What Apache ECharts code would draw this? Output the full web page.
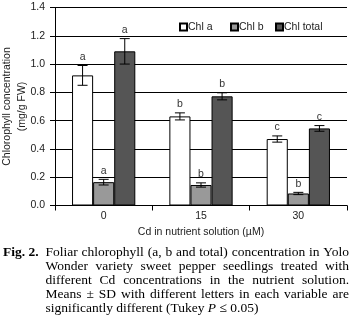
<!DOCTYPE html>
<html><head><meta charset="utf-8">
<script src="https://cdn.jsdelivr.net/npm/echarts@6/dist/echarts.min.js"></script>
<style>html,body{margin:0;padding:0;background:#fff}#c{width:354px;height:322px}</style>
</head><body><div id="c"></div>
<script>
const categories = ['0', '15', '30'];
const chlA = [0.92, 0.63, 0.47];
const chlASd = [0.07, 0.025, 0.022];
const chlALetters = ['a', 'b', 'c'];
const chlB = [0.165, 0.145, 0.085];
const chlBSd = [0.02, 0.015, 0.008];
const chlBLetters = ['a', 'b', 'b'];
const chlT = [1.09, 0.772, 0.545];
const chlTSd = [0.09, 0.025, 0.02];
const chlTLetters = ['a', 'b', 'c'];
const yTicks = [0, 0.2, 0.4, 0.6, 0.8, 1.0, 1.2, 1.4];
const yNameLines = ['Chlorophyll concentration', '(mg/g FW)'];
const captionLines = [
  'Foliar chlorophyll (a, b and total) concentration in Yolo',
  'Wonder variety sweet pepper seedlings treated with',
  'different Cd concentrations in the nutrient solution.',
  'Means \u00b1 SD with different letters in each variable are'
];

const GAP = 0.35;
const font = 'Liberation Sans, Arial, sans-serif';
const serif = 'Liberation Serif, Times New Roman, serif';

function errSeries(idx, vals, sds, letters) {
  return {
    type: 'custom', name: 'err' + idx, z: 5,
    encode: { x: 0, y: 1 },
    data: vals.map((v, i) => [i, v, sds[i]]),
    renderItem: function (params, api) {
      const ci = api.value(0), v = api.value(1), sd = api.value(2);
      const catW = api.size([1, 0])[0];
      const barW = catW * (1 - GAP) / 3;
      const c = api.coord([ci, v]);
      const x = c[0] + (idx - 1) * barW;
      const yt = api.coord([ci, v + sd])[1];
      const yb = api.coord([ci, v - sd])[1];
      const st = { stroke: '#000', lineWidth: 1 };
      return { type: 'group', children: [
        { type: 'line', shape: { x1: x, y1: yt, x2: x, y2: yb }, style: st },
        { type: 'line', shape: { x1: x - 5, y1: yt, x2: x + 5, y2: yt }, style: st },
        { type: 'line', shape: { x1: x - 5, y1: yb, x2: x + 5, y2: yb }, style: st },
        { type: 'text', style: { text: letters[params.dataIndex], x: x, y: yt - 3,
          align: 'center', verticalAlign: 'bottom', fontSize: 10.5, fontFamily: font, fill: '#333' } }
      ]};
    }
  };
}

const graphics = [];
// y-axis title (two rotated lines)
yNameLines.forEach((t, i) => {
  graphics.push({ type: 'text', x: 7.5 + i * 15, y: 106.5, rotation: Math.PI / 2,
    style: { text: t, fontSize: 10.5, fontFamily: font, fill: '#222', align: 'center', verticalAlign: 'middle' } });
});

// justified caption via word placement
const cv = document.createElement('canvas').getContext('2d');
const capFont = 13.5;
cv.font = capFont + 'px "Liberation Serif"';
const capLeft = 45.5, capRight = 349, capTop = 252.5, capLH = 14;
graphics.push({ type: 'text', x: 3, y: capTop, style: { text: 'Fig. 2.', fontSize: capFont, fontWeight: 'bold', fontFamily: serif, fill: '#000', verticalAlign: 'middle' } });
captionLines.forEach((ln, li) => {
  const words = ln.split(' ');
  const widths = words.map(w => cv.measureText(w).width);
  const total = widths.reduce((a, b) => a + b, 0);
  const gap = (capRight - capLeft - total) / (words.length - 1);
  let x = capLeft;
  words.forEach((w, wi) => {
    graphics.push({ type: 'text', x: x, y: capTop + li * capLH, style: { text: w, fontSize: capFont, fontFamily: serif, fill: '#000', verticalAlign: 'middle' } });
    x += widths[wi] + gap;
  });
});
graphics.push({ type: 'text', x: capLeft, y: capTop + 4 * capLH, style: {
  text: '{n|significantly different (Tukey }{i|P}{n| \u2264 0.05)}', verticalAlign: 'middle',
  rich: { n: { fontSize: capFont, fontFamily: serif, fill: '#000' }, i: { fontSize: capFont, fontFamily: serif, fontStyle: 'italic', fill: '#000' } } } });

const legendCommon = {
  top: 21.5, padding: 0, itemWidth: 7, itemHeight: 7, icon: 'rect',
  textStyle: { fontSize: 10.5, fontFamily: font, color: '#222', padding: [0, 0, 0, -4] }
};

const chart = echarts.init(document.getElementById('c'));
chart.setOption({
  animation: false,
  backgroundColor: '#fff',
  grid: { left: 55, right: 7, top: 7.5, bottom: 116.5, containLabel: false, outerBoundsMode: 'none' },
  legend: [
    Object.assign({ data: ['Chl a'], left: 179 }, legendCommon),
    Object.assign({ data: ['Chl b'], left: 230 }, legendCommon),
    Object.assign({ data: ['Chl total'], left: 275 }, legendCommon)
  ],
  xAxis: {
    type: 'category', data: categories,
    name: 'Cd in nutrient solution (\u00b5M)', nameLocation: 'middle', nameGap: 15,
    nameTextStyle: { fontSize: 10.5, fontFamily: font, color: '#222' },
    axisLine: { lineStyle: { color: '#000' } },
    axisTick: { show: true, length: 5, lineStyle: { color: '#000' } },
    axisLabel: { fontSize: 10.5, fontFamily: font, color: '#222', margin: 5 }
  },
  yAxis: {
    type: 'value', min: 0, max: 1.4, interval: 0.2,
    axisLine: { show: true, lineStyle: { color: '#000' } },
    axisTick: { show: true, length: 5, lineStyle: { color: '#000' } },
    axisLabel: { fontSize: 10.5, fontFamily: font, color: '#222', margin: 10,
      formatter: v => yTicks.includes(Math.round(v * 10) / 10) ? v.toFixed(1) : '' },
    splitLine: { show: true, lineStyle: { color: '#000', width: 1 } }
  },
  series: [
    { type: 'bar', name: 'Chl a', data: chlA, barGap: '0%', barCategoryGap: (GAP * 100) + '%',
      itemStyle: { color: '#fff', borderColor: '#000', borderWidth: 1 } },
    { type: 'bar', name: 'Chl b', data: chlB,
      itemStyle: { color: '#999', borderColor: '#000', borderWidth: 1 } },
    { type: 'bar', name: 'Chl total', data: chlT,
      itemStyle: { color: '#555', borderColor: '#000', borderWidth: 1 } },
    errSeries(0, chlA, chlASd, chlALetters),
    errSeries(1, chlB, chlBSd, chlBLetters),
    errSeries(2, chlT, chlTSd, chlTLetters)
  ],
  graphic: graphics
});
</script></body></html>
